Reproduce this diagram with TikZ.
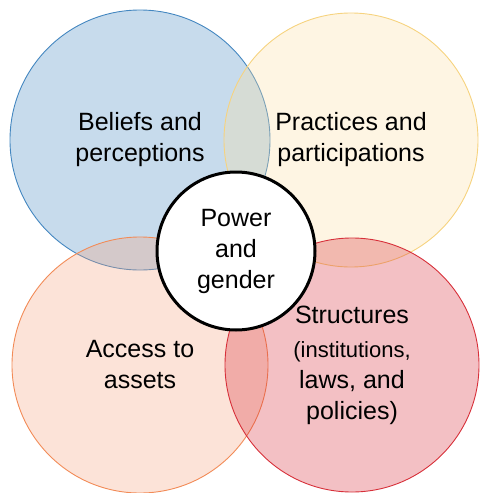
\documentclass[tikz,border=0pt]{standalone}
\usepackage{fontspec}
\setmainfont{Liberation Sans}
\definecolor{beliefcol}{HTML}{4487C0}
\definecolor{practicecol}{HTML}{FCDEA2}
\definecolor{practiceline}{HTML}{F6D37F}
\definecolor{accesscol}{HTML}{F5A27D}
\definecolor{accessline}{HTML}{F28B57}
\definecolor{structcol}{HTML}{D7303A}
\tikzset{
  area/.style={circle, draw, line width=0.9pt, fill opacity=0.3, text opacity=1,
               inner sep=0pt, align=center, font=\fontsize{25}{31}\selectfont},
  core/.style={circle, draw, line width=3pt, fill=white, minimum size=158pt,
               inner sep=0pt, align=center, font=\fontsize{25}{31}\selectfont},
}

\begin{document}
\begin{tikzpicture}[x=1pt, y=-1pt]
  \useasboundingbox (0,0) rectangle (480,493);
  % ── four overlapping domains ─────────────────────────────────────
  \node[area, draw=beliefcol, fill=beliefcol, minimum size=260pt] (belief) at (140,140)
    {Beliefs and\\perceptions};
  \node[area, draw=practiceline, fill=practicecol, minimum size=254pt] (practice) at (351,140)
    {Practices and\\participations};
  \node[area, draw=accessline, fill=accesscol, minimum size=256pt] (access) at (140,365)
    {Access to\\assets};
  \node[area, draw=structcol, fill=structcol, minimum size=254pt] (struct) at (352,365)
    {Structures\\[3pt]\fontsize{22}{27}\selectfont (institutions,\\laws, and\\policies)};
  % ── centre hub ───────────────────────────────────────────────────
  \node[core] (power) at (236,251) {Power\\and\\gender};
\end{tikzpicture}
\end{document}
